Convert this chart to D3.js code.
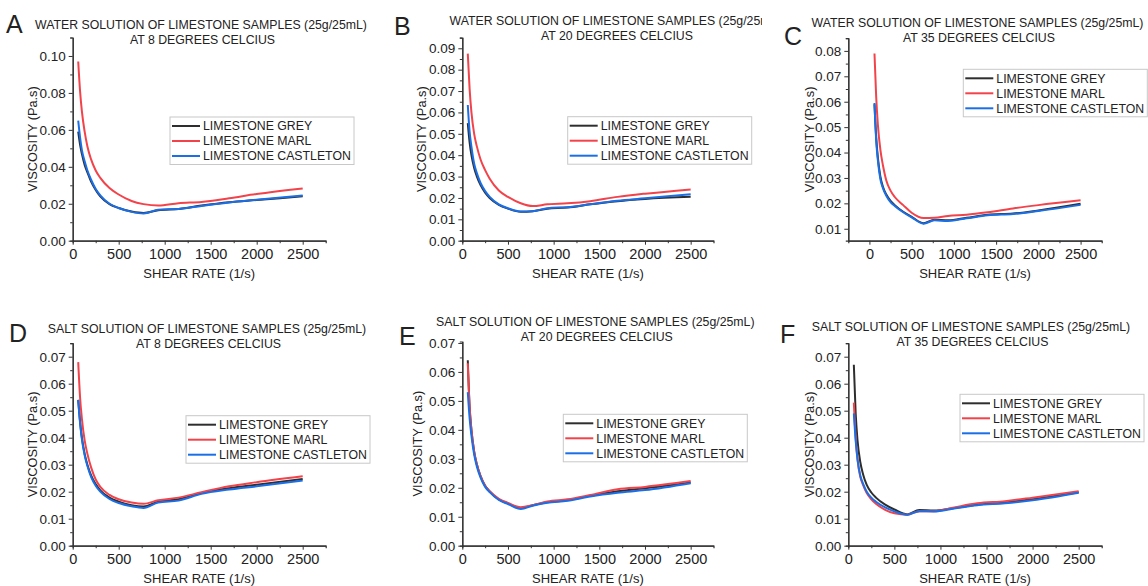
<!DOCTYPE html>
<html>
<head>
<meta charset="utf-8">
<script src="https://cdn.jsdelivr.net/npm/d3@7"></script>
<style>
  body { margin: 0; background: #fff; }
  svg text { font-family: "Liberation Sans", Arial, sans-serif; fill: #222; }
</style>
</head>
<body>
<svg id="fig" width="1148" height="586"></svg>
<script>
// Shear rates (1/s) at which viscosity was read.
const shearRate = [60, 80, 100, 130, 160, 200, 250, 300, 400, 500, 640, 770, 930, 1150, 1400, 1700, 2000, 2500];

// Water solution, 8 C.
const waterGrey8 = [0.059, 0.052, 0.047, 0.041, 0.037, 0.032, 0.0275, 0.024, 0.0198, 0.0177, 0.0158, 0.015, 0.0165, 0.0172, 0.019, 0.0208, 0.022, 0.024];
const waterMarl8 = [0.097, 0.081, 0.070, 0.059, 0.051, 0.044, 0.038, 0.034, 0.0285, 0.025, 0.0215, 0.0198, 0.019, 0.0203, 0.021, 0.023, 0.0253, 0.0283];
const waterCastleton8 = [0.065, 0.056, 0.049, 0.043, 0.038, 0.033, 0.028, 0.0245, 0.020, 0.0177, 0.0156, 0.0147, 0.0167, 0.0172, 0.0188, 0.0207, 0.0222, 0.0245];

// Water solution, 20 C.
const waterGrey20 = [0.055, 0.046, 0.040, 0.034, 0.030, 0.026, 0.0225, 0.020, 0.0168, 0.0150, 0.0135, 0.0138, 0.015, 0.0155, 0.017, 0.0185, 0.0195, 0.0205];
const waterMarl20 = [0.0875, 0.071, 0.060, 0.050, 0.044, 0.038, 0.033, 0.029, 0.0235, 0.0205, 0.0175, 0.0162, 0.017, 0.0175, 0.0185, 0.0205, 0.022, 0.024];
const waterCastleton20 = [0.0635, 0.051, 0.044, 0.036, 0.0315, 0.027, 0.0232, 0.0205, 0.017, 0.0152, 0.0137, 0.0138, 0.0152, 0.0157, 0.017, 0.0187, 0.0198, 0.0217];

// Water solution, 35 C.
const waterGrey35 = [0.059, 0.046, 0.038, 0.0305, 0.0265, 0.0235, 0.021, 0.0193, 0.0167, 0.0147, 0.0122, 0.0135, 0.0133, 0.0143, 0.0155, 0.016, 0.0172, 0.0198];
const waterMarl35 = [0.079, 0.062, 0.051, 0.041, 0.035, 0.029, 0.025, 0.0225, 0.0193, 0.0163, 0.0142, 0.0143, 0.015, 0.0155, 0.0165, 0.018, 0.0193, 0.0212];
const waterCastleton35 = [0.0595, 0.045, 0.037, 0.0295, 0.026, 0.023, 0.0205, 0.019, 0.0165, 0.0145, 0.012, 0.0133, 0.0131, 0.0141, 0.0153, 0.0158, 0.017, 0.0194];

// Salt solution, 8 C.
const saltGrey8 = [0.054, 0.046, 0.040, 0.034, 0.030, 0.026, 0.0228, 0.0205, 0.0178, 0.0163, 0.015, 0.0145, 0.0163, 0.0172, 0.0195, 0.0213, 0.0226, 0.0247];
const saltMarl8 = [0.068, 0.055, 0.047, 0.039, 0.034, 0.029, 0.0245, 0.0218, 0.0188, 0.0172, 0.016, 0.0155, 0.0168, 0.0178, 0.0198, 0.022, 0.0235, 0.0257];
const saltCastleton8 = [0.054, 0.0455, 0.0395, 0.0335, 0.0295, 0.0255, 0.0222, 0.020, 0.0173, 0.0158, 0.0146, 0.014, 0.016, 0.0167, 0.0192, 0.0208, 0.022, 0.0241];

// Salt solution, 20 C.
const saltGrey20 = [0.064, 0.048, 0.040, 0.0325, 0.028, 0.024, 0.0207, 0.0187, 0.016, 0.0146, 0.013, 0.014, 0.015, 0.0157, 0.0172, 0.0188, 0.0198, 0.0218];
const saltMarl20 = [0.063, 0.048, 0.040, 0.0325, 0.028, 0.024, 0.0207, 0.0188, 0.0162, 0.0148, 0.0133, 0.014, 0.0153, 0.016, 0.0175, 0.0195, 0.0203, 0.0223];
const saltCastleton20 = [0.053, 0.044, 0.038, 0.0315, 0.0273, 0.0235, 0.0203, 0.0185, 0.0158, 0.0144, 0.0127, 0.0138, 0.0148, 0.0155, 0.017, 0.0183, 0.0192, 0.0216];

// Salt solution, 35 C.
const saltGrey35 = [0.067, 0.049, 0.039, 0.031, 0.0265, 0.0225, 0.0197, 0.0178, 0.0152, 0.0134, 0.0116, 0.0132, 0.013, 0.014, 0.0152, 0.016, 0.0172, 0.0198];
const saltMarl35 = [0.053, 0.040, 0.032, 0.0255, 0.0225, 0.0195, 0.0172, 0.0155, 0.0133, 0.012, 0.0115, 0.0128, 0.0128, 0.0142, 0.0157, 0.0165, 0.0178, 0.0202];
const saltCastleton35 = [0.049, 0.039, 0.032, 0.026, 0.023, 0.020, 0.0178, 0.0163, 0.0142, 0.0127, 0.0115, 0.0128, 0.0127, 0.0138, 0.015, 0.0157, 0.0168, 0.0196];

// Tick labels.
const xTicks = [0, 500, 1000, 1500, 2000, 2500];
const xMinor = [250, 750, 1250, 1750, 2250];
const yTicksA = [0, 0.02, 0.04, 0.06, 0.08, 0.10];
const yTicksB = [0, 0.01, 0.02, 0.03, 0.04, 0.05, 0.06, 0.07, 0.08, 0.09];
const yTicksC = [0.01, 0.02, 0.03, 0.04, 0.05, 0.06, 0.07, 0.08];
const yTicksSalt = [0, 0.01, 0.02, 0.03, 0.04, 0.05, 0.06, 0.07];

const seriesNames = ["LIMESTONE GREY", "LIMESTONE MARL", "LIMESTONE CASTLETON"];
const seriesColors = ["#2e2e2e", "#f2434b", "#1a6fe6"];

// Panel layout (pixel boxes) and which arrays go in each.
const panels = [
  { letter: "A", lx: 6, ly: 33, solution: "WATER", temp: 8, tx: 201, ty: 28.5,
    left: 72.7, right: 325.7, top: 37.5, bottom: 240.7, xDomain: [0, 2750], yDomain: [0, 0.11],
    yTicks: yTicksA, yStep: 0.01, legend: [170, 117], ylabX: 33,
    data: [waterGrey8, waterMarl8, waterCastleton8] },
  { letter: "B", lx: 394, ly: 35, solution: "WATER", temp: 20, tx: 615.5, ty: 25, clip: 762,
    left: 462.3, right: 713.5, top: 37.6, bottom: 240.7, xDomain: [0, 2750], yDomain: [0, 0.095],
    yTicks: yTicksB, yStep: 0.005, legend: [567.7, 116.7], ylabX: 422,
    data: [waterGrey20, waterMarl20, waterCastleton20] },
  { letter: "C", lx: 784, ly: 45, solution: "WATER", temp: 35, tx: 977.5, ty: 26.5,
    left: 848.3, right: 1101.7, top: 38.2, bottom: 240.7, xDomain: [-250, 2750], yDomain: [0.0053, 0.085],
    yTicks: yTicksC, yStep: 0.005, legend: [963.3, 69.3], ylabX: 810,
    data: [waterGrey35, waterMarl35, waterCastleton35] },
  { letter: "D", lx: 9, ly: 342, solution: "SALT", temp: 8, tx: 207, ty: 332.7,
    left: 72.7, right: 325.7, top: 343.2, bottom: 545.7, xDomain: [0, 2750], yDomain: [0, 0.075],
    yTicks: yTicksSalt, yStep: 0.005, legend: [186, 415.7], ylabX: 33,
    data: [saltGrey8, saltMarl8, saltCastleton8] },
  { letter: "E", lx: 399, ly: 345, solution: "SALT", temp: 20, tx: 595.3, ty: 326,
    left: 462.3, right: 713.5, top: 341.5, bottom: 545.7, xDomain: [0, 2750], yDomain: [0, 0.0705],
    yTicks: yTicksSalt, yStep: 0.005, legend: [563.3, 414.3], ylabX: 418,
    data: [saltGrey20, saltMarl20, saltCastleton20] },
  { letter: "F", lx: 780, ly: 343.3, solution: "SALT", temp: 35, tx: 971, ty: 331,
    left: 848.3, right: 1101.7, top: 343.2, bottom: 545.7, xDomain: [0, 2750], yDomain: [0, 0.075],
    yTicks: yTicksSalt, yStep: 0.005, legend: [960, 394.3], ylabX: 810,
    data: [saltGrey35, saltMarl35, saltCastleton35] },
];

const svg = d3.select("#fig");
const fmtY = d3.format(".2f");
const fmtX = d3.format("d");

function styleAxis(sel) {
  sel.select(".domain").attr("stroke", "#333").attr("stroke-width", 1.2);
  sel.selectAll(".tick line").attr("stroke", "#333").attr("stroke-width", 1);
  sel.selectAll(".tick text").attr("fill", "#222").attr("font-family", null);
}

function drawPanel(p, idx) {
  const x = d3.scaleLinear().domain(p.xDomain).range([p.left, p.right]);
  const y = d3.scaleLinear().domain(p.yDomain).range([p.bottom, p.top]);
  const g = svg.append("g");

  // Panel letter.
  g.append("text").attr("x", p.lx).attr("y", p.ly)
    .attr("font-size", 25).text(p.letter);

  // Title, two lines.
  const title = g.append("g");
  if (p.clip) {
    svg.append("clipPath").attr("id", "clip" + idx)
      .append("rect").attr("x", 0).attr("y", 0).attr("width", p.clip).attr("height", 586);
    title.attr("clip-path", `url(#clip${idx})`);
  }
  title.append("text").attr("x", p.tx).attr("y", p.ty).attr("text-anchor", "middle")
    .attr("font-size", 12.3).text(`${p.solution} SOLUTION OF LIMESTONE SAMPLES (25g/25mL)`);
  title.append("text").attr("x", p.tx + 1.5).attr("y", p.ty + 15).attr("text-anchor", "middle")
    .attr("font-size", 12.3).text(`AT ${p.temp} DEGREES CELCIUS`);

  // Minor ticks.
  const yMinor = d3.range(Math.ceil(p.yDomain[0] / p.yStep), Math.floor(p.yDomain[1] / p.yStep) + 1)
    .map((k) => +(k * p.yStep).toFixed(4))
    .filter((v) => !p.yTicks.some((t) => Math.abs(t - v) < 1e-6));
  g.append("g").attr("transform", `translate(0,${p.bottom})`)
    .call(d3.axisBottom(x).tickValues(xMinor).tickSize(2.5).tickFormat(""))
    .call(styleAxis);
  g.append("g").attr("transform", `translate(${p.left},0)`)
    .call(d3.axisLeft(y).tickValues(yMinor).tickSize(2.5).tickFormat(""))
    .call(styleAxis);

  // Major axes.
  g.append("g").attr("transform", `translate(0,${p.bottom})`)
    .call(d3.axisBottom(x).tickValues(xTicks).tickFormat(fmtX).tickSize(4).tickSizeOuter(0).tickPadding(4))
    .call(styleAxis)
    .call((s) => s.selectAll(".tick text").attr("font-size", 14.5));
  g.append("g").attr("transform", `translate(${p.left},0)`)
    .call(d3.axisLeft(y).tickValues(p.yTicks).tickFormat(fmtY).tickSize(4).tickSizeOuter(0).tickPadding(3))
    .call(styleAxis)
    .call((s) => s.selectAll(".tick text").attr("font-size", 13.5));

  // Axis titles.
  g.append("text")
    .attr("transform", `translate(${p.ylabX},${(p.top + p.bottom) / 2}) rotate(-90)`)
    .attr("text-anchor", "middle").attr("dy", "0.35em").attr("font-size", 12.8)
    .text("VISCOSITY (Pa.s)");
  g.append("text")
    .attr("x", (p.left + p.right) / 2).attr("y", p.bottom + 37.5)
    .attr("text-anchor", "middle").attr("font-size", 13)
    .text("SHEAR RATE (1/s)");

  // Lines.
  const line = d3.line()
    .x((d, i) => x(shearRate[i]))
    .y((d) => y(d))
    .curve(d3.curveMonotoneX);
  p.data.forEach((series, i) => {
    g.append("path").datum(series)
      .attr("fill", "none").attr("stroke", seriesColors[i])
      .attr("stroke-width", 2).attr("stroke-linejoin", "round")
      .attr("d", line);
  });

  // Legend.
  const lg = g.append("g").attr("transform", `translate(${p.legend[0]},${p.legend[1]})`);
  lg.append("rect").attr("width", 184).attr("height", 47.5)
    .attr("fill", "#fff").attr("stroke", "#c8c8c8").attr("stroke-width", 1);
  seriesNames.forEach((name, i) => {
    const yy = 9 + i * 15;
    lg.append("line").attr("x1", 2).attr("x2", 30).attr("y1", yy).attr("y2", yy)
      .attr("stroke", seriesColors[i]).attr("stroke-width", 2);
    lg.append("text").attr("x", 33).attr("y", yy).attr("dy", "0.36em")
      .attr("font-size", 12.3).text(name);
  });
}

panels.forEach(drawPanel);
</script>
</body>
</html>
